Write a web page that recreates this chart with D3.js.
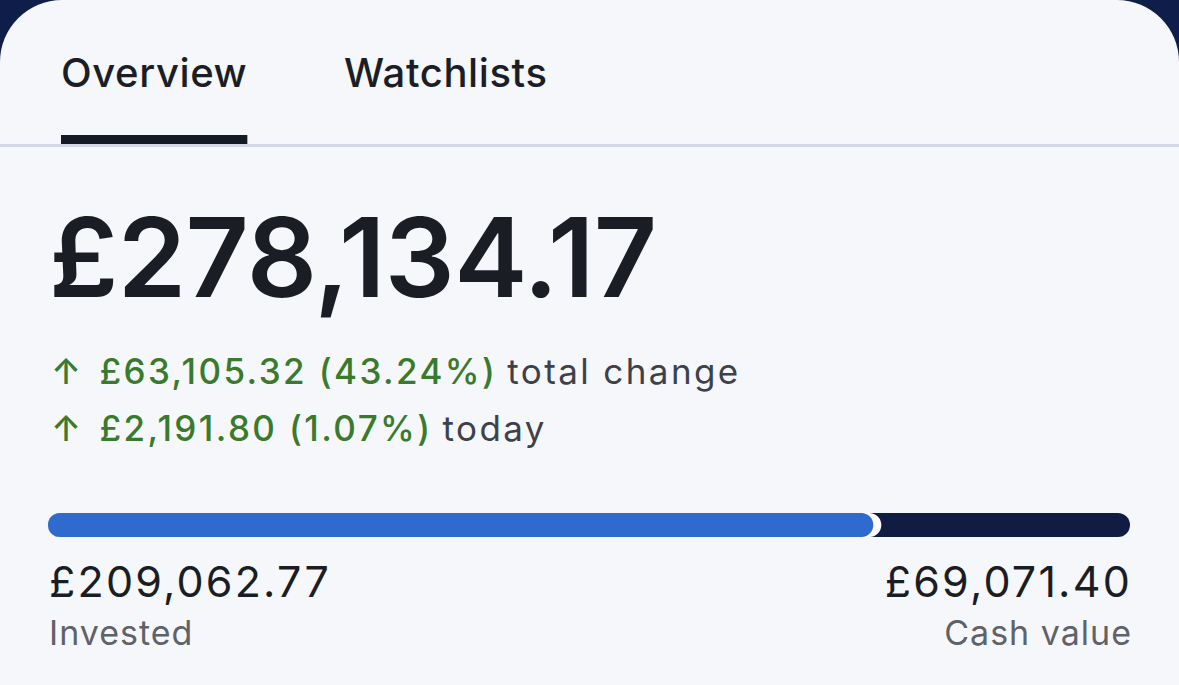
<!DOCTYPE html>
<html>
<head>
<meta charset="utf-8">
<script src="https://cdn.jsdelivr.net/npm/d3@7"></script>
<style>
  html, body { margin: 0; padding: 0; background: #0f1d4a; }
  svg { display: block; font-family: Inter, "Noto Sans", sans-serif; }
</style>
</head>
<body>
<svg id="chart" width="1179" height="685"></svg>
<script>
// values
const tabs = ["Overview", "Watchlists"];
const activeTab = "Overview";
const portfolioTotal = 278134.17;
const changeLabels = ["total change", "today"];
const changeAmounts = [63105.32, 2191.80];
const changePercents = [43.24, 1.07];
const splitLabels = ["Invested", "Cash value"];
const splitValues = [209062.77, 69071.40];

const W = 1179, H = 685;
const money = v => "£" + d3.format(",.2f")(v);
const pct = v => d3.format(".2f")(v) + "%";

const svg = d3.select("#chart");

// card with rounded top corners over the navy background
svg.append("rect").attr("width", W).attr("height", H).attr("fill", "#0f1d4a");
svg.append("rect")
    .attr("x", 0).attr("y", 0)
    .attr("width", W).attr("height", H + 80)
    .attr("rx", 62).attr("fill", "#f6f7fa");

// tabs
const tabX = [61, 344];
const tabG = svg.append("g");
tabs.forEach((t, i) => {
  const txt = tabG.append("text")
      .attr("x", tabX[i]).attr("y", 87)
      .attr("font-size", 40).attr("font-weight", 500)
      .attr("letter-spacing", 0.6)
      .attr("fill", "#1b1e26")
      .text(t);
  if (t === activeTab) {
    const w = txt.node().getComputedTextLength();
    tabG.append("rect")
        .attr("x", tabX[i]).attr("y", 135)
        .attr("width", w).attr("height", 9)
        .attr("fill", "#141a26");
  }
});
svg.append("rect")
    .attr("x", 0).attr("y", 144).attr("width", W).attr("height", 3)
    .attr("fill", "#d4d8e5");

// headline value
svg.append("text")
    .attr("x", 49).attr("y", 297)
    .attr("font-size", 110).attr("font-weight", 600)
    .attr("letter-spacing", -0.6)
    .attr("fill", "#1a1d24")
    .text(money(portfolioTotal));

// change lines
const lineY = [384, 441];
changeAmounts.forEach((a, i) => {
  const t = svg.append("text")
      .attr("x", 51).attr("y", lineY[i])
      .attr("font-size", 35).attr("letter-spacing", 2.4);
  t.append("tspan").attr("fill", "#3a7a2c").attr("font-weight", 500)
      .text("↑");
  t.append("tspan").attr("fill", "#3a7a2c").attr("font-weight", 500)
      .attr("dx", 16)
      .text(money(a) + " (" + pct(changePercents[i]) + ")");
  t.append("tspan").attr("fill", "#3d414b").attr("dx", 10)
      .text(changeLabels[i]);
});

// split bar
const barY = 513, barH = 24, r = barH / 2;
const x = d3.scaleLinear()
    .domain([0, d3.sum(splitValues)])
    .range([48, 1130]);

svg.append("rect")
    .attr("x", x(0)).attr("y", barY)
    .attr("width", x.range()[1] - x(0)).attr("height", barH)
    .attr("rx", r).attr("fill", "#111c45");
// white ring behind the blue end
svg.append("rect")
    .attr("x", x(0)).attr("y", barY)
    .attr("width", x(splitValues[0]) - x(0) + r + 8).attr("height", barH)
    .attr("rx", r).attr("fill", "#ffffff");
svg.append("rect")
    .attr("x", x(0)).attr("y", barY)
    .attr("width", x(splitValues[0]) - x(0) + r).attr("height", barH)
    .attr("rx", r).attr("fill", "#2f6bcf");

// labels under the bar
const labelX = [x(0) + 1, x.range()[1] + 2];
const anchors = ["start", "end"];
splitValues.forEach((v, i) => {
  svg.append("text")
      .attr("x", labelX[i]).attr("y", 597)
      .attr("text-anchor", anchors[i])
      .attr("font-size", 43).attr("font-weight", 400)
      .attr("letter-spacing", 2.2)
      .attr("fill", "#1a1d24")
      .text(money(v));
  svg.append("text")
      .attr("x", labelX[i]).attr("y", 645)
      .attr("text-anchor", anchors[i])
      .attr("font-size", 34).attr("letter-spacing", 1)
      .attr("fill", "#5f6269")
      .text(splitLabels[i]);
});
</script>
</body>
</html>
